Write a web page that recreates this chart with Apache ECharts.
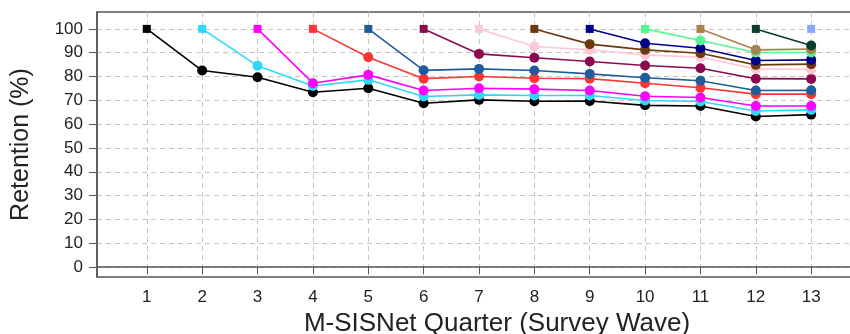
<!DOCTYPE html>
<html><head><meta charset="utf-8">
<script src="https://cdn.jsdelivr.net/npm/echarts@6/dist/echarts.min.js"></script>
<style>html,body{margin:0;padding:0;background:#fff;overflow:hidden}#c{width:850px;height:334px}</style>
</head><body><div id="c"></div>
<script>
const quarters = [1,2,3,4,5,6,7,8,9,10,11,12,13];
const yTicks = [0,10,20,30,40,50,60,70,80,90,100];
// each cohort starts at its own quarter (index = start quarter)
const cohort1  = [100, 82.5, 79.7, 73.4, 75.1, 68.8, 70.2, 69.6, 69.7, 67.9, 67.6, 63.2, 64.0];
const cohort2  = [100, 84.5, 76.0, 78.6, 71.6, 72.3, 72.0, 72.0, 69.9, 69.5, 65.5, 66.0];
const cohort3  = [100, 77.2, 80.7, 74.1, 75.1, 74.7, 74.1, 71.7, 71.2, 67.6, 67.6];
const cohort4  = [100, 88.1, 79.1, 80.0, 79.3, 79.1, 77.2, 75.3, 72.6, 72.6];
const cohort5  = [100, 82.6, 83.2, 82.5, 81.1, 79.5, 78.2, 74.1, 74.2];
const cohort6  = [100, 89.5, 87.9, 86.3, 84.6, 83.5, 79.1, 79.0];
const cohort7  = [100, 92.6, 91.2, 89.1, 88.1, 83.2, 83.0];
const cohort8  = [100, 93.6, 91.2, 89.8, 84.9, 85.2];
const cohort9  = [100, 94.0, 91.9, 86.7, 87.0];
const cohort10 = [100, 95.1, 90.1, 90.1];
const cohort11 = [100, 91.2, 91.5];
const cohort12 = [100, 93.0];
const cohort13 = [100];
const cohorts = [cohort1,cohort2,cohort3,cohort4,cohort5,cohort6,cohort7,cohort8,cohort9,cohort10,cohort11,cohort12,cohort13];
const colors = ['#000000','#2ED8F5','#FF00FF','#FF3535','#1F5C99','#8B0A4F','#FFC8D8','#6B3A0E','#00008B','#55F593','#A8814F','#073F2B','#8AA6FF'];

const FONT = 'Liberation Sans';
const series = cohorts.map((vals, i) => ({
  type: 'line',
  data: vals.map((v, j) => ({
    value: [quarters[i + j], v],
    symbol: j === 0 ? 'rect' : 'circle',
    symbolSize: j === 0 ? 8 : 10
  })),
  color: colors[i],
  lineStyle: { width: 1.6, color: colors[i] },
  itemStyle: { color: colors[i] },
  showSymbol: true,
  animation: false,
  z: 2 + i
}));

const chart = echarts.init(document.getElementById('c'), null, { renderer: 'canvas' });
chart.setOption({
  backgroundColor: '#fff',
  animation: false,
  grid: { left: 97, right: -47, top: 12, bottom: 57, show: true, borderColor: '#555', borderWidth: 1.5,
          containLabel: false, outerBoundsMode: 'none' },
  xAxis: {
    type: 'value', min: 0.1, max: 14.55,
    name: 'M-SISNet Quarter (Survey Wave)', nameLocation: 'middle', nameGap: 33,
    nameTextStyle: { fontFamily: FONT, fontSize: 26, color: '#222' },
    axisLine: { show: true, lineStyle: { color: '#555', width: 1.5 } },
    axisTick: { show: true, length: 7, customValues: quarters, lineStyle: { color: '#555' } },
    axisLabel: { customValues: quarters, fontFamily: FONT, fontSize: 17, color: '#222', margin: 12 },
    splitLine: { show: true, lineStyle: { color: '#c4c4c4', type: [5, 4], width: 1 } }
  },
  yAxis: {
    type: 'value', min: -4.2, max: 107.1,
    name: 'Retention (%)', nameLocation: 'middle', nameGap: 63,
    nameTextStyle: { fontFamily: FONT, fontSize: 25, color: '#222' },
    axisLine: { show: true, lineStyle: { color: '#555', width: 1.5 } },
    axisTick: { show: true, length: 8, customValues: yTicks, lineStyle: { color: '#555' } },
    axisLabel: { customValues: yTicks, fontFamily: FONT, fontSize: 17, color: '#222', margin: 14 },
    splitLine: { show: true, lineStyle: { color: '#c4c4c4', type: [5, 4], width: 1 } }
  },
  series: series
});
</script></body></html>
